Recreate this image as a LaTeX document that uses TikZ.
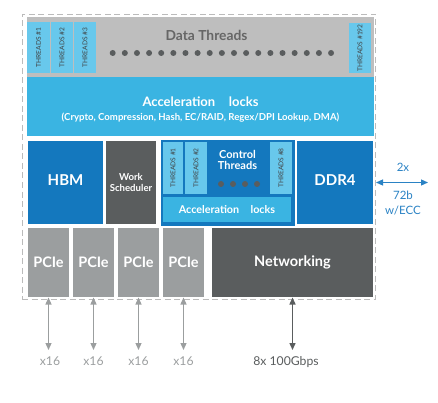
\documentclass[tikz,border=0pt]{standalone}
\usepackage{fontspec}
\setmainfont{Lato}
\usetikzlibrary{arrows.meta}
\definecolor{dtgray}{HTML}{BEBEBE}
\definecolor{thr}{HTML}{68C8EC}
\definecolor{acc}{HTML}{3AB4E2}
\definecolor{dblue}{HTML}{1478BE}
\definecolor{dgray}{HTML}{5A5D5E}
\definecolor{pgray}{HTML}{9B9E9F}
\definecolor{txtgray}{HTML}{666666}
\definecolor{lblue}{HTML}{2A82C4}
\definecolor{dashgray}{HTML}{BBBBBB}
\newcommand{\fs}[1]{\fontsize{#1}{#1}\selectfont}
\begin{document}
\begin{tikzpicture}[x=1pt,y=-1pt,
  blk/.style={inner sep=0pt, outer sep=0pt, text=white, font=\bfseries, align=center},
  thread/.style={fill=thr, inner sep=0pt, outer sep=0pt, text=black!75, font=\fs{6.6}},
  lbl/.style={inner sep=0pt, outer sep=0pt, align=center},
  bot/.style={anchor=north, inner xsep=0pt, inner ysep=7pt, outer sep=0pt, font=\fs{12.2}},
  pcie/.style={blk, fill=pgray, minimum width=41pt, minimum height=69pt, font=\bfseries\fs{14.5}},
  dbl/.style={{Triangle[length=7pt,width=6pt]}-{Triangle[length=7pt,width=6pt]}},
  dot/.style={fill=dgray, draw=none}
]
\useasboundingbox (0,0) rectangle (438,403);
% outer dashed frame
\node[draw=dashgray, line width=0.9pt, dash pattern=on 6pt off 3.5pt, inner sep=0pt,
      minimum width=353pt, minimum height=285pt] (chip) at (198.5,156.5) {};
% data threads
\node[blk, fill=dtgray, minimum width=347pt, minimum height=60pt] (dt) at (200.5,47) {};
\node[thread, minimum width=23pt, minimum height=51pt] (t1) at (38.5,47.5) {\rotatebox{90}{THREADS \#1}};
\node[thread, minimum width=22pt, minimum height=51pt] (t2) at (62,47.5) {\rotatebox{90}{THREADS \#2}};
\node[thread, minimum width=22pt, minimum height=51pt] (t3) at (85,47.5) {\rotatebox{90}{THREADS \#3}};
\node[thread, minimum width=22pt, minimum height=50pt] (t192) at (360,48) {\rotatebox{90}{THREADS \#192}};
\node[lbl, text=txtgray, font=\bfseries\fs{13.8}] (dttext) at (206.5,35) {Data Threads};
\foreach \i in {0,...,18} \fill[dot] (112.7+12.13*\i,53) circle (3pt);
% acceleration blocks
\node[blk, fill=acc, minimum width=347pt, minimum height=59pt] (acc) at (200.5,106.5) {};
\node[lbl, text=white, font=\bfseries\fs{13}] (acctitle) at (200.5,102) {Acceleration\hspace{1.05em}locks};
\node[lbl, text=white, font=\bfseries\fs{9.6}] (accsub) at (200.5,117.5) {(Crypto, Compression, Hash, EC/RAID, Regex/DPI Lookup, DMA)};
% middle row
\node[blk, fill=dblue, minimum width=75pt, minimum height=83pt, font=\bfseries\fs{15}] (hbm) at (65.5,182.5) {\raisebox{4pt}{HBM}};
\node[blk, fill=dgray, minimum width=50pt, minimum height=83pt, font=\bfseries\fs{9.6}] (ws) at (131,182.5) {Work\\[1pt]Scheduler};
\node[blk, fill=dblue, minimum width=134pt, minimum height=85pt] (ctrl) at (228,183) {};
\node[thread, minimum width=20pt, minimum height=52pt] (c1) at (173,168) {\rotatebox{90}{THREADS \#1}};
\node[thread, minimum width=22pt, minimum height=52pt] (c2) at (196,168) {\rotatebox{90}{THREADS \#2}};
\node[thread, minimum width=22pt, minimum height=52pt] (c8) at (281,168) {\rotatebox{90}{THREADS \#8}};
\node[lbl, text=white, font=\bfseries\fs{11}] (ctext) at (237.5,160) {Control\\[0pt]Threads};
\foreach \xx in {221,233,245,257} \fill[dot] (\xx,184) circle (3pt);
\node[blk, fill=acc, minimum width=128pt, minimum height=25pt, font=\bfseries\fs{10.8}] (cacc) at (227,209.5) {Acceleration\hspace{1.05em}locks};
\node[blk, fill=dblue, minimum width=76pt, minimum height=83pt, font=\bfseries\fs{15}] (ddr) at (335,182.5) {\raisebox{4pt}{DDR4}};
% bottom row
\node[pcie] (p1) at (48.5,262.5) {PCIe};
\node[pcie] (p2) at (93.5,262.5) {PCIe};
\node[pcie] (p3) at (138.5,262.5) {PCIe};
\node[pcie] (p4) at (183.5,262.5) {PCIe};
\node[blk, fill=dgray, minimum width=161pt, minimum height=69pt, font=\bfseries\fs{14.5}] (net) at (292.5,262.5) {Networking};
% bottom labels
\node[bot, text=pgray] (l1) at (50,350) {x16};
\node[bot, text=pgray] (l2) at (93.5,350) {x16};
\node[bot, text=pgray] (l3) at (138.5,350) {x16};
\node[bot, text=pgray] (l4) at (183.5,350) {x16};
\node[bot, text=dgray] (ln) at (286,350) {8x 100Gbps};
\foreach \p/\l in {p1/l1,p2/l2,p3/l3,p4/l4}
  \draw[dbl, pgray, line width=1.2pt, shorten <=0.5pt] (\p.south) -- (\p.south |- \l.north);
\draw[dbl, dgray, line width=1.4pt, shorten <=0.5pt] (net.south) -- (net.south |- ln.north);
% DDR link
\coordinate (ddrend) at (428,182.5);
\draw[dbl, lblue, line width=1.2pt, shorten <=3pt] (ddr.east) -- (ddrend);
\node[lbl, text=lblue, font=\fs{11.5}] (d2x) at (403,167) {2x};
\node[lbl, text=lblue, font=\fs{11.5}] (d72) at (403,195) {72b};
\node[lbl, text=lblue, font=\fs{11.5}] (decc) at (403,210.5) {w/ECC};
\end{tikzpicture}
\end{document}
